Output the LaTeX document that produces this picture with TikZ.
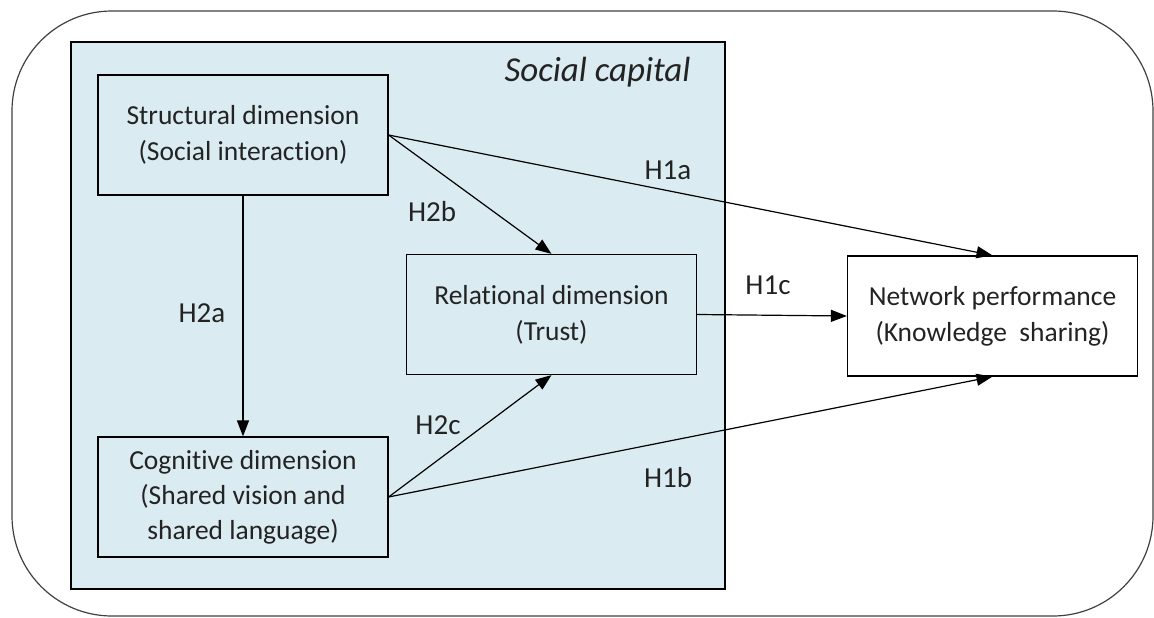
\documentclass[tikz,border=0pt]{standalone}
\usepackage{fontspec}
\setmainfont{Carlito}[Ligatures=NoCommon]
\usetikzlibrary{arrows.meta}

\definecolor{capblue}{RGB}{219,235,242}
\definecolor{txtgray}{RGB}{35,35,35}

\tikzset{
  dimbox/.style={draw, line width=1.2pt, minimum width=290pt, minimum height=120pt,
    inner sep=0pt, align=center, text=txtgray, font=\fontsize{27.5}{36}\selectfont},
  hyp/.style={-{Triangle[length=16pt,width=12pt]}, line width=1.2pt},
  hlabel/.style={text=txtgray, font=\fontsize{29}{34}\selectfont}
}

\begin{document}
\begin{tikzpicture}[x=1pt,y=-1pt]
\useasboundingbox (0,0) rectangle (1154,618);

% Frame
\draw[line width=1.2pt, black!75, rounded corners=100pt] (12,11) rectangle (1153,616);

% Social capital
\draw[fill=capblue, line width=1.2pt] (71,42) rectangle (725,589);
\node[anchor=east, text=txtgray, font=\itshape\fontsize{35}{40}\selectfont] (sc) at (694,72) {Social capital};

% Dimensions
\node[dimbox] (struct) at (243,135) {Structural dimension\\(Social interaction)};
\node[dimbox, font=\fontsize{27.5}{35}\selectfont] (cogn) at (243,497) {Cognitive dimension\\(Shared vision and\\shared language)};
\node[dimbox] (rel) at (551.5,314.5) {Relational dimension\\(Trust)};

% Network performance
\node[dimbox] (netw) at (992.5,316) {Network performance\\(Knowledge~ sharing)};

% Hypotheses
\draw[hyp] (struct.east) -- (netw.north);
\draw[hyp] (struct.east) -- (rel.north);
\draw[hyp] (struct.south) -- (cogn.north);
\draw[hyp] (cogn.east) -- (rel.south);
\draw[hyp] (cogn.east) -- (netw.south);
\draw[hyp] (rel.east) -- (netw.west);

\node[hlabel] (h1a) at (668,170) {H1a};
\node[hlabel] (h2b) at (432,212) {H2b};
\node[hlabel] (h2a) at (202,313) {H2a};
\node[hlabel] (h2c) at (438,425) {H2c};
\node[hlabel] (h1c) at (768,285) {H1c};
\node[hlabel] (h1b) at (668,478) {H1b};

\end{tikzpicture}
\end{document}
